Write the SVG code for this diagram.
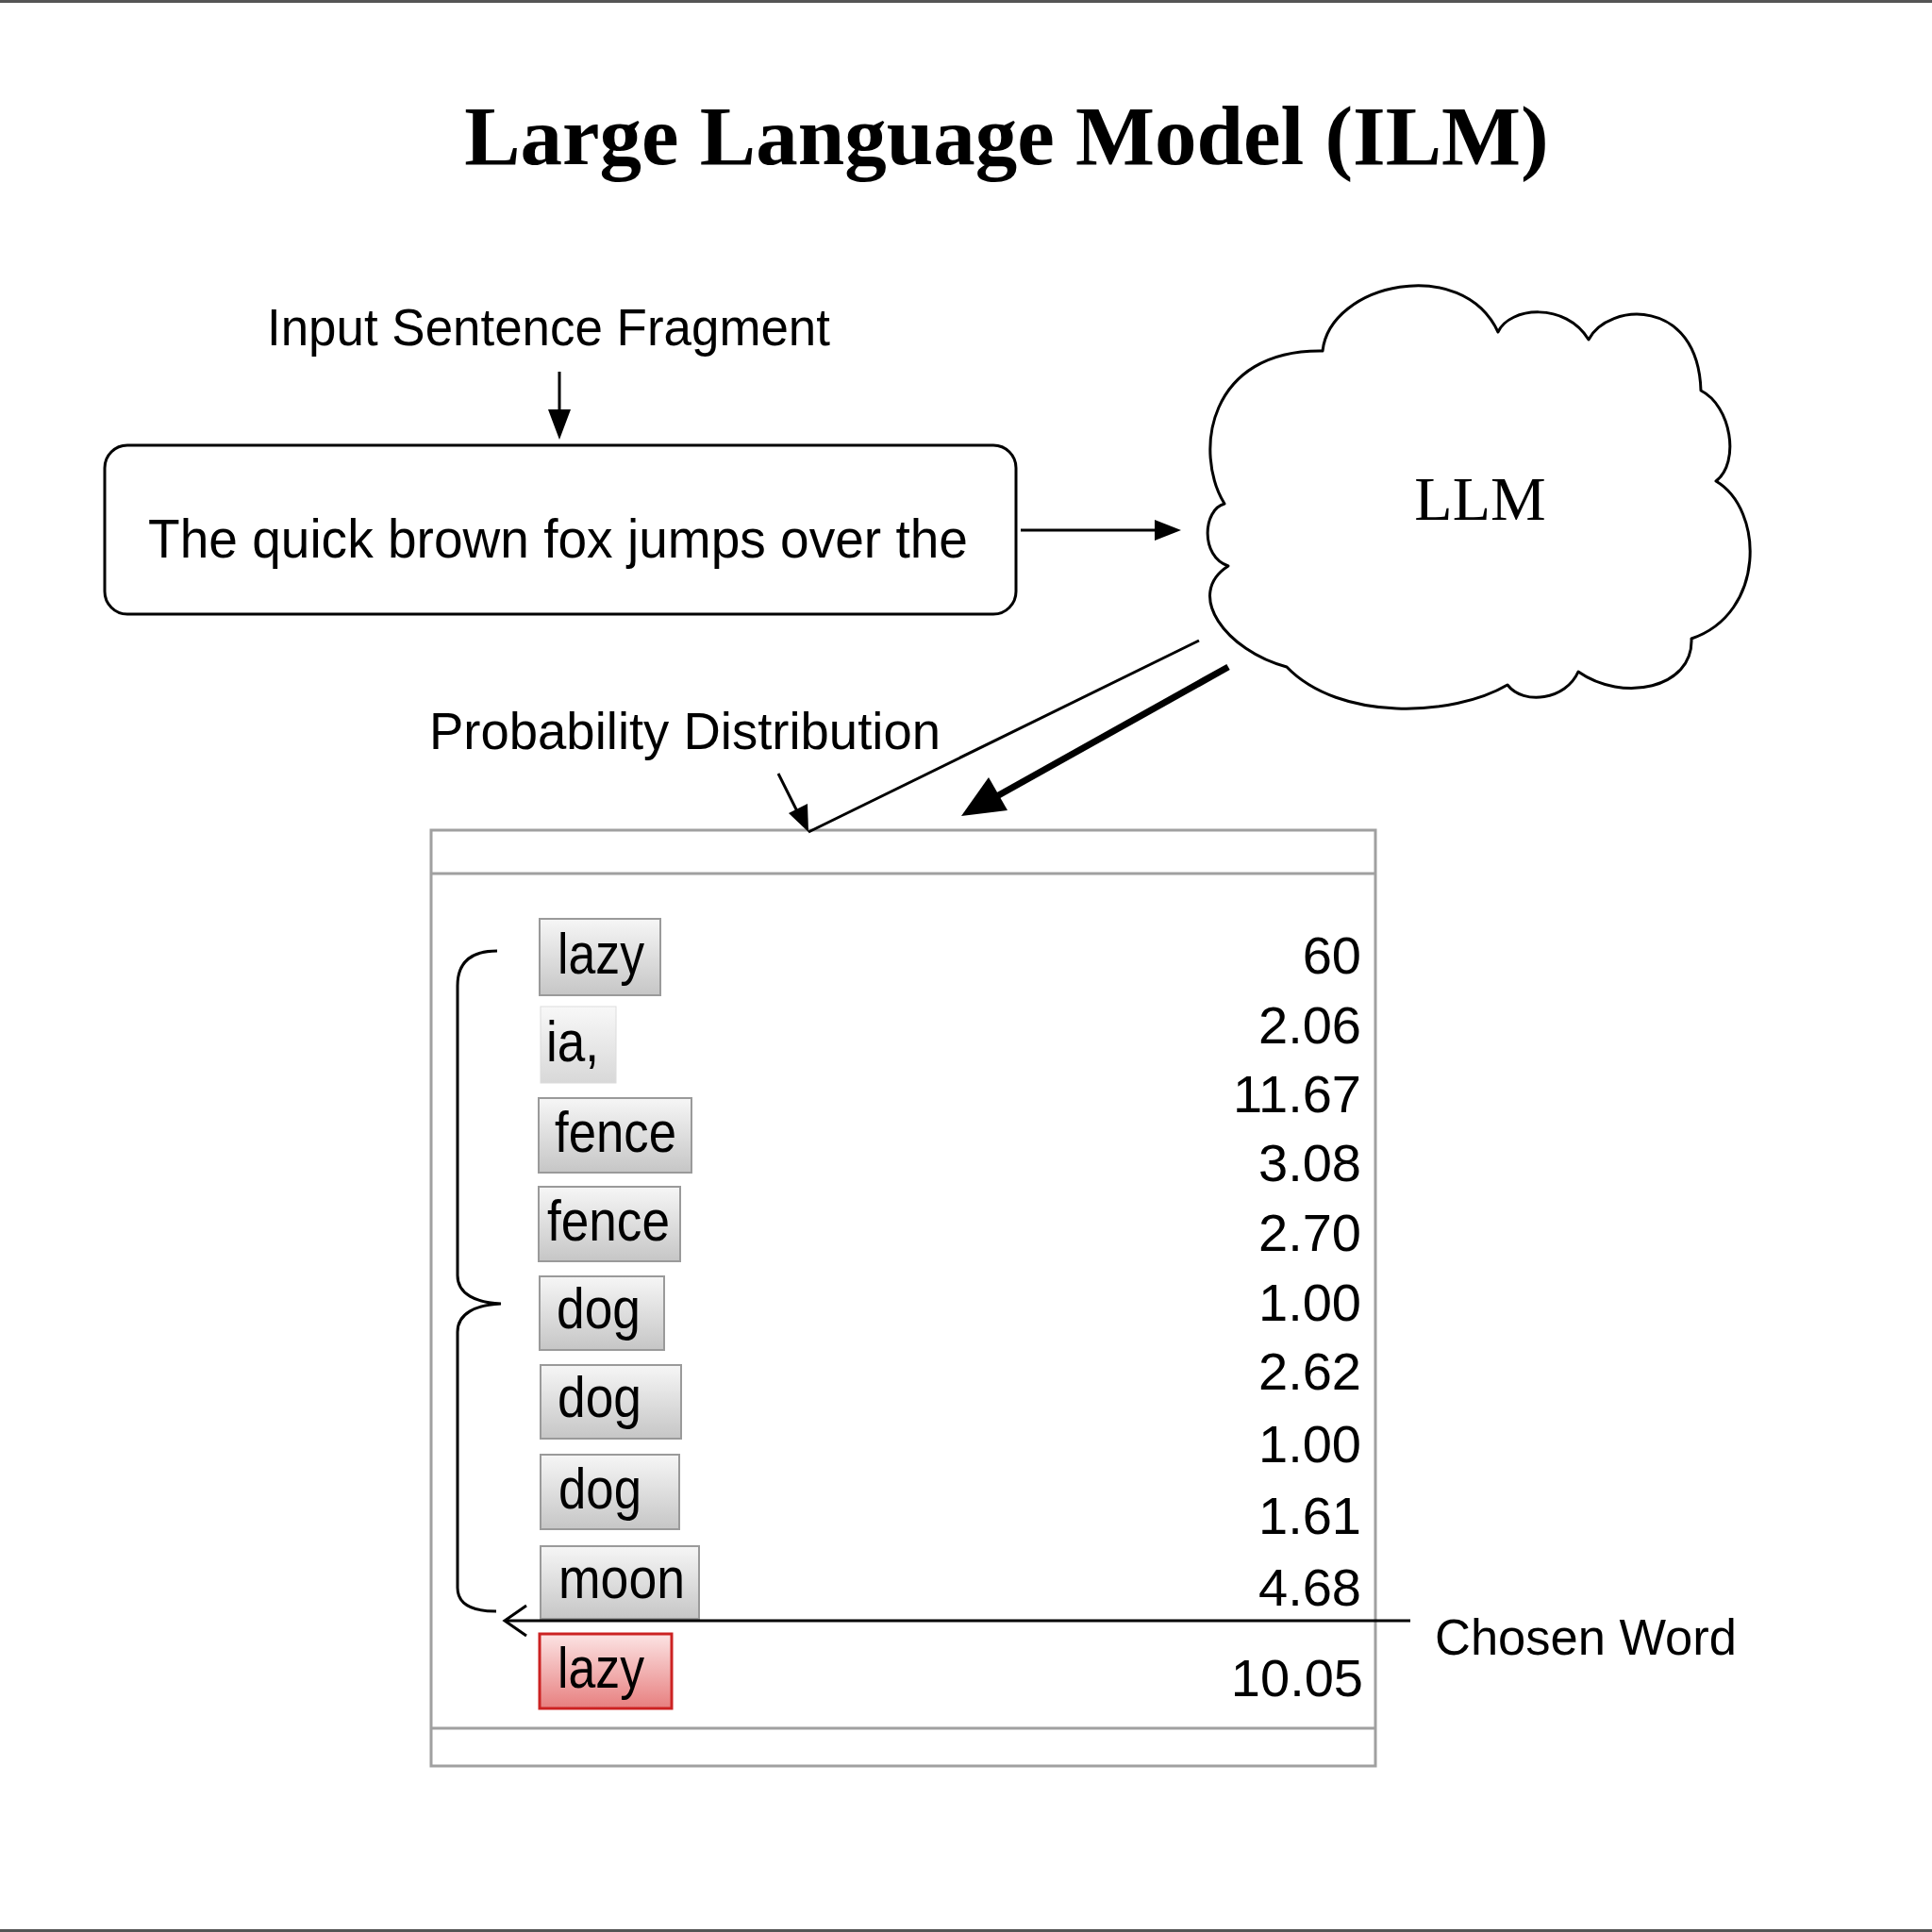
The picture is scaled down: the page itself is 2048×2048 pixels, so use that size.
<svg xmlns="http://www.w3.org/2000/svg" width="2048" height="2048" viewBox="0 0 2048 2048">
<style>
.sans{font-family:"Liberation Sans",Arial,sans-serif;fill:#000}
.serif{font-family:"Liberation Serif","Times New Roman",serif;fill:#000}
.line{stroke:#000;fill:none;stroke-width:3}
.word{stroke:#9a9a9a;stroke-width:2;fill:url(#gGray)}
.wtxt{font-family:"Liberation Sans",Arial,sans-serif;font-size:61px;fill:#000}
.num{font-family:"Liberation Sans",Arial,sans-serif;font-size:56px;fill:#000;text-anchor:end}
</style>
<defs>
<linearGradient id="gGray" x1="0" y1="0" x2="0" y2="1">
<stop offset="0" stop-color="#f6f6f6"/><stop offset="1" stop-color="#c6c6c6"/>
</linearGradient>
<linearGradient id="gLight" x1="0" y1="0" x2="0" y2="1">
<stop offset="0" stop-color="#f8f8f8"/><stop offset="1" stop-color="#d8d8d8"/>
</linearGradient>
<linearGradient id="gRed" x1="0" y1="0" x2="0" y2="1">
<stop offset="0" stop-color="#fce4e4"/><stop offset="1" stop-color="#e77f7f"/>
</linearGradient>
</defs>
<rect x="0" y="0" width="2048" height="2048" fill="#fff"/>
<rect x="0" y="0" width="2048" height="3" fill="#555"/>
<rect x="0" y="2045" width="2048" height="3" fill="#555"/>

<text class="serif" x="1067" y="174" font-size="89" font-weight="bold" text-anchor="middle">Large Language Model (ILM)</text>

<g id="input-label">
<text class="sans" x="283" y="366" font-size="55" textLength="597" lengthAdjust="spacingAndGlyphs">Input Sentence Fragment</text>
</g>

<g id="input-box">
<rect x="111" y="472" width="966" height="179" rx="24" ry="24" fill="#fff" stroke="#000" stroke-width="3"/>
<text class="sans" x="157" y="591" font-size="57" textLength="869" lengthAdjust="spacingAndGlyphs">The quick brown fox jumps over the</text>
</g>

<g id="llm-cloud">
<path fill="#fff" stroke="#000" stroke-width="3" stroke-linejoin="round" d="M1298,534 C1265,480 1280,370 1402,372 C1410,300 1550,270 1588,352 C1600,325 1660,320 1684,360 C1705,320 1800,315 1803,414 C1835,430 1845,490 1819,510 C1870,540 1872,650 1793,677 C1795,730 1720,745 1673,712 C1660,742 1615,748 1598,726 C1540,760 1420,765 1364,707 C1300,690 1255,630 1302,600 C1272,590 1275,540 1298,534 Z"/>
<text class="serif" x="1569" y="551" font-size="66" text-anchor="middle">LLM</text>
</g>

<g id="prob-label">
<text class="sans" x="455" y="794" font-size="55" textLength="542" lengthAdjust="spacingAndGlyphs">Probability Distribution</text>
</g>

<g id="prob-table">
<rect x="457" y="880" width="1001" height="992" fill="#fff" stroke="#a0a0a0" stroke-width="3"/>
<line x1="457" y1="926" x2="1458" y2="926" stroke="#a0a0a0" stroke-width="3"/>
<line x1="457" y1="1832" x2="1458" y2="1832" stroke="#a0a0a0" stroke-width="3"/>
</g>

<g id="words">
<g id="w1"><rect class="word" x="572" y="974" width="128" height="81"/><text class="wtxt" x="591" y="1032" textLength="92" lengthAdjust="spacingAndGlyphs">lazy</text></g>
<g id="w2"><rect x="573" y="1067" width="80" height="81" fill="url(#gLight)" stroke="#dcdcdc" stroke-width="1"/><text class="wtxt" x="579" y="1125" textLength="56" lengthAdjust="spacingAndGlyphs">ia,</text></g>
<g id="w3"><rect class="word" x="571" y="1164" width="162" height="79"/><text class="wtxt" x="588" y="1221" textLength="129" lengthAdjust="spacingAndGlyphs">fence</text></g>
<g id="w4"><rect class="word" x="571" y="1258" width="150" height="79"/><text class="wtxt" x="580" y="1315" textLength="130" lengthAdjust="spacingAndGlyphs">fence</text></g>
<g id="w5"><rect class="word" x="572" y="1353" width="132" height="78"/><text class="wtxt" x="590" y="1408" textLength="89" lengthAdjust="spacingAndGlyphs">dog</text></g>
<g id="w6"><rect class="word" x="573" y="1447" width="149" height="78"/><text class="wtxt" x="591" y="1502" textLength="89" lengthAdjust="spacingAndGlyphs">dog</text></g>
<g id="w7"><rect class="word" x="573" y="1542" width="147" height="79"/><text class="wtxt" x="592" y="1599" textLength="88" lengthAdjust="spacingAndGlyphs">dog</text></g>
<g id="w8"><rect class="word" x="573" y="1639" width="168" height="77"/><text class="wtxt" x="592" y="1694" textLength="134" lengthAdjust="spacingAndGlyphs">moon</text></g>
<g id="w9"><rect x="572" y="1732" width="140" height="79" fill="url(#gRed)" stroke="#cc2222" stroke-width="3"/><text class="wtxt" x="591" y="1789" textLength="92" lengthAdjust="spacingAndGlyphs">lazy</text></g>
</g>

<g id="numbers">
<text class="num" x="1443" y="1032">60</text>
<text class="num" x="1443" y="1106">2.06</text>
<text class="num" x="1443" y="1179">11.67</text>
<text class="num" x="1443" y="1252">3.08</text>
<text class="num" x="1443" y="1326">2.70</text>
<text class="num" x="1443" y="1400">1.00</text>
<text class="num" x="1443" y="1473">2.62</text>
<text class="num" x="1443" y="1550">1.00</text>
<text class="num" x="1443" y="1626">1.61</text>
<text class="num" x="1443" y="1702">4.68</text>
<text class="num" x="1445" y="1798">10.05</text>
</g>

<g id="chosen-label">
<text class="sans" x="1521" y="1754" font-size="54" textLength="320" lengthAdjust="spacingAndGlyphs">Chosen Word</text>
</g>

<g id="connectors">
<line class="line" x1="593" y1="394" x2="593" y2="440"/>
<polygon points="581,434 605,434 593,466" fill="#000"/>
<line class="line" x1="1082" y1="562" x2="1230" y2="562"/>
<polygon points="1224,551 1224,573 1252,562" fill="#000"/>
<line class="line" x1="1271" y1="679" x2="857" y2="882"/>
<line x1="825" y1="820" x2="845" y2="860" stroke="#000" stroke-width="3"/>
<polygon points="836,862 856,852 857,882" fill="#000"/>
<line x1="1302" y1="707" x2="1055" y2="845" stroke="#000" stroke-width="7"/>
<polygon points="1019,865 1068,859 1048,824" fill="#000"/>
<path class="line" stroke-width="4" d="M527,1008 C500,1008 485,1020 485,1045 L485,1352 C485,1372 505,1381 531,1382 C505,1383 485,1392 485,1412 L485,1683 C485,1700 500,1708 526,1708"/>
<line class="line" x1="535" y1="1718" x2="1495" y2="1718"/>
<polyline class="line" points="558,1702 535,1718 558,1734"/>
</g>
</svg>
